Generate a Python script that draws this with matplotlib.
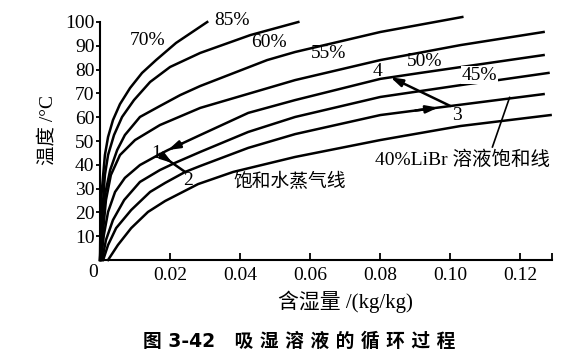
import numpy as np
import matplotlib
matplotlib.use("Agg")
import matplotlib.pyplot as plt

serif = ['Liberation Serif', 'Noto Sans CJK SC']
cjk = ['Noto Sans CJK SC', 'DejaVu Sans']

# humidity ratio (kg/kg) vs temperature (C)
x_85 = [0, 0.0001, 0.0003, 0.0009, 0.0014, 0.0023, 0.0037, 0.0057, 0.0086, 0.0120, 0.0160, 0.0217, 0.0306]
t_85 = [0, 12.6, 25.2, 35.7, 44.1, 51.7, 58.8, 65.5, 72.3, 78.6, 84.0, 91.2, 100]

x_70 = [0, 0.0003, 0.0009, 0.0014, 0.0023, 0.0040, 0.0063, 0.0097, 0.0143, 0.0200, 0.0286, 0.0429, 0.0566]
t_70 = [0, 12.6, 25.2, 35.7, 44.1, 52.5, 60.1, 67.2, 74.8, 81.1, 87.0, 94.5, 100]

x_60 = [0, 0.0006, 0.0014, 0.0029, 0.0049, 0.0071, 0.0114, 0.0171, 0.0229, 0.0286, 0.0477, 0.0557, 0.0800, 0.1034]
t_60 = [0, 14.7, 27.3, 37.8, 46.2, 52.5, 60.1, 64.7, 69.3, 73.1, 84.0, 87.4, 95.8, 102.1]

x_55 = [0.0003, 0.0009, 0.0017, 0.0031, 0.0057, 0.0100, 0.0171, 0.0286, 0.0557, 0.0800, 0.1029, 0.1266]
t_55 = [0, 12.6, 25.2, 35.7, 44.1, 50.4, 56.7, 63.9, 75.6, 84.0, 90.3, 95.8]

x_50 = [0.0003, 0.0011, 0.0023, 0.0043, 0.0071, 0.0114, 0.0166, 0.0194, 0.0286, 0.0423, 0.0557, 0.0800, 0.0914, 0.1266]
t_50 = [0, 10.5, 20.2, 28.6, 34.5, 39.9, 44.1, 46.2, 52.5, 61.8, 67.2, 76.1, 78.6, 86.1]

x_45 = [0.0006, 0.0017, 0.0037, 0.0069, 0.0114, 0.0171, 0.0214, 0.0286, 0.0423, 0.0557, 0.0800, 0.1049, 0.1137, 0.1280]
t_45 = [0, 8.4, 16.8, 25.2, 32.8, 37.8, 40.8, 45.4, 53.8, 60.1, 68.5, 73.9, 75.6, 78.6]

x_40 = [0.0009, 0.0023, 0.0046, 0.0089, 0.0143, 0.0186, 0.0243, 0.0286, 0.0423, 0.0557, 0.0800, 0.1000, 0.1266]
t_40 = [0, 6.3, 13.4, 21.0, 28.6, 32.4, 37.0, 39.5, 47.1, 52.9, 60.9, 64.7, 69.7]

x_water = [0.0023, 0.0051, 0.0089, 0.0137, 0.0186, 0.0280, 0.0380, 0.0557, 0.0800, 0.1029, 0.1286]
t_water = [0, 6.3, 13.4, 20.2, 24.8, 31.9, 37.0, 43.3, 50.4, 56.3, 60.9]

curves = [(x_85, t_85), (x_70, t_70), (x_60, t_60), (x_55, t_55),
          (x_50, t_50), (x_45, t_45), (x_40, t_40), (x_water, t_water)]

# cycle points 1-4
cycle_x = [0.0171, 0.0243, 0.1000, 0.0823]
cycle_t = [44.4, 37.0, 64.7, 76.6]

# curve labels
pct_labels = ['70%', '85%', '60%', '55%', '50%', '45%']
pct_x = [0.0137, 0.0377, 0.0483, 0.0651, 0.0926, 0.1083]
pct_t = [92.4, 100.8, 91.2, 86.6, 83.2, 77.7]

xticks = [0.02, 0.04, 0.06, 0.08, 0.10, 0.12]
yticks = [10, 20, 30, 40, 50, 60, 70, 80, 90, 100]

fig = plt.figure(figsize=(5.83, 3.57), dpi=100)
ax = fig.add_axes([100 / 583, 1 - 260 / 357, 452 / 583, 238 / 357])

for cx, ct in curves:
    ax.plot(cx, ct, color='black', lw=1.8, solid_joinstyle='round', clip_on=False)

ax.set_xlim(0, 0.129)
ax.set_ylim(0, 100)
ax.spines['top'].set_visible(False)
ax.spines['right'].set_visible(False)
for s in ['left', 'bottom']:
    ax.spines[s].set_linewidth(1.5)

ax.set_xticks(xticks + [0.129])
ax.set_xticklabels(['%.2f' % v for v in xticks] + [''], fontfamily=serif, fontsize=14)
ax.set_yticks(yticks)
ax.set_yticklabels([str(v) for v in yticks], fontfamily=serif, fontsize=14)
ax.tick_params(axis='x', direction='in', length=5, width=1.3, pad=5)
ax.tick_params(axis='y', direction='out', length=3, width=1.3, pad=1)
ax.annotate('0', xy=(0, 0), xytext=(-5, -9), textcoords='offset points',
            ha='center', va='center', fontsize=14, fontfamily=serif)

# percentage labels (white box leaves the gap in the 45% line)
for lab, lx, lt in zip(pct_labels, pct_x, pct_t):
    ax.text(lx, lt, lab, ha='center', va='center', fontsize=14, fontfamily=serif,
            bbox=dict(facecolor='white', edgecolor='none', pad=0.5) if lab == '45%' else None)

# cycle: 1 -> 2 -> 3 -> 4 -> 1
arrow = dict(arrowstyle='-|>,head_length=0.7,head_width=0.22', color='black', lw=1.8,
             shrinkA=0, shrinkB=0)
p1 = (cycle_x[0], cycle_t[0])
p2 = (cycle_x[1], cycle_t[1])
p3 = (cycle_x[2], cycle_t[2])
p4 = (cycle_x[3], cycle_t[3])
ax.plot([p1[0], p2[0]], [p1[1], p2[1]], color='black', lw=1.8)
mid = ((p1[0] + p2[0]) / 2, (p1[1] + p2[1]) / 2)
ax.annotate('', xy=mid, xytext=p1, arrowprops=arrow)
ax.annotate('', xy=(p4[0] + 0.0006, p4[1] + 0.2), xytext=p3, arrowprops=arrow)
# arrow heads along the 40% and 50% lines
ax.annotate('', xy=(0.0965, np.interp(0.0965, x_40, t_40)),
            xytext=(0.090, np.interp(0.090, x_40, t_40)), arrowprops=arrow)
ax.annotate('', xy=(0.0194, np.interp(0.0194, x_50, t_50)),
            xytext=(0.0235, np.interp(0.0235, x_50, t_50)), arrowprops=arrow)

for num, nx, nt in zip(['1', '2', '3', '4'], [0.0161, 0.0251, 0.1020, 0.0791], [44.8, 33.6, 60.9, 79.4]):
    ax.text(nx, nt, num, ha='center', va='center', fontsize=14, fontfamily=serif)

# 40% LiBr pointer
ax.plot([0.1120, 0.1169], [47.5, 68.3], color='black', lw=1.2)
ax.text(0.0786, 42.0, '40%LiBr 溶液饱和线', ha='left', va='center', fontsize=14, fontfamily=serif)
ax.text(0.0380, 32.8, '饱和水蒸气线', ha='left', va='center', fontsize=13.5, fontfamily=cjk)

fig.text(47 / 583, 1 - 130 / 357, '温度 /°C', rotation=90, ha='center', va='center',
         fontsize=14, fontfamily=serif)
fig.text(278 / 583, 1 - 302 / 357, '含湿量 /(kg/kg)', ha='left', va='center',
         fontsize=15, fontfamily=serif)
fig.text(143 / 583, 1 - 341 / 357, '图 3-42   吸 湿 溶 液 的 循 环 过 程', ha='left', va='center',
         fontsize=13.5, fontweight='bold', fontfamily=['DejaVu Sans', 'Noto Sans CJK SC'])

fig.savefig('out.png', dpi=100)
